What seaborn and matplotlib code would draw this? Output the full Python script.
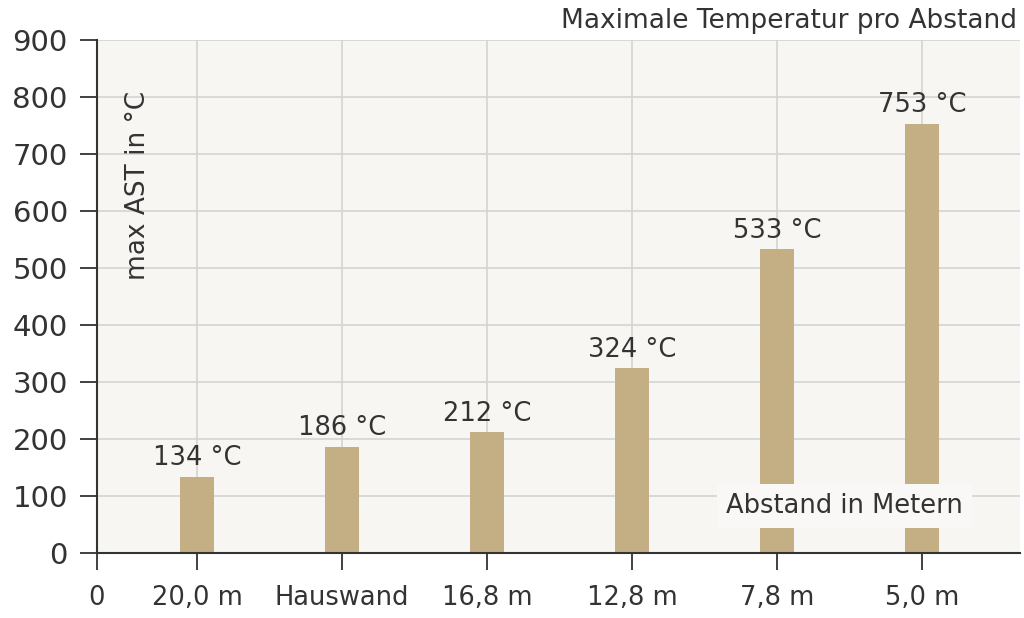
import matplotlib
matplotlib.use("Agg")
import matplotlib.pyplot as plt
import seaborn as sns
import pandas as pd

categories = ["20,0 m", "Hauswand", "16,8 m", "12,8 m", "7,8 m", "5,0 m"]
values = [134, 186, 212, 324, 533, 753]
y_ticks = [0, 100, 200, 300, 400, 500, 600, 700, 800, 900]

BG = "#f7f6f2"
BAR = "#c4ae84"
TXT = "#333333"
GRID = "#d4d4d2"

sns.set_theme(style="white")
plt.rcParams["font.family"] = ["DejaVu Sans"]

fig = plt.figure(figsize=(10.24, 6.18), dpi=100)
fig.patch.set_facecolor("white")
ax = fig.add_axes([97 / 1024, 65 / 618, (1020 - 97) / 1024, (553 - 40) / 618])
ax.set_facecolor(BG)

df = pd.DataFrame({"cat": categories, "val": values})
sns.barplot(data=df, x="cat", y="val", color=BAR, width=0.24, saturation=1,
            linewidth=0, ax=ax, zorder=3)

ax.set_xlim(-0.69, 5.676)
ax.set_ylim(0, 900)
ax.set_yticks(y_ticks)
ax.set_yticklabels([str(v) for v in y_ticks])
ax.set_xticks([-0.69] + list(range(len(categories))))
ax.set_xticklabels(["0"] + categories)

ax.set_axisbelow(True)
ax.grid(True, color=GRID, linewidth=1.2, zorder=0)

for side in ["top", "right"]:
    ax.spines[side].set_visible(False)
for side in ["left", "bottom"]:
    ax.spines[side].set_color(TXT)
    ax.spines[side].set_linewidth(1.5)
    ax.spines[side].set_zorder(4)

ax.tick_params(axis="both", direction="out", length=12, width=1.3, color=TXT,
               labelcolor=TXT, left=True, bottom=True)
ax.tick_params(axis="y", pad=9, labelsize=21)
ax.tick_params(axis="x", pad=11, labelsize=18.5)

ax.set_xlabel("")
ax.set_ylabel("")

for cont in ax.containers:
    ax.bar_label(cont, labels=[f"{v} °C" for v in values], padding=4,
                 fontsize=18.5, color=TXT, zorder=5)

ax.text(0.044, 0.717, "max AST in °C", transform=ax.transAxes, rotation=90,
        ha="center", va="center", fontsize=19, color=TXT)

ax.text(4.465, 82, "Abstand in Metern", ha="center", va="center", fontsize=18.5,
        color=TXT, zorder=6,
        bbox=dict(boxstyle="square,pad=0.35", facecolor="#f9f8f6", edgecolor="none"))

fig.text(1017 / 1024, 1 - 21 / 618, "Maximale Temperatur pro Abstand", ha="right",
         va="center", fontsize=19, color=TXT)

fig.savefig("out.png", dpi=100, facecolor="white")
